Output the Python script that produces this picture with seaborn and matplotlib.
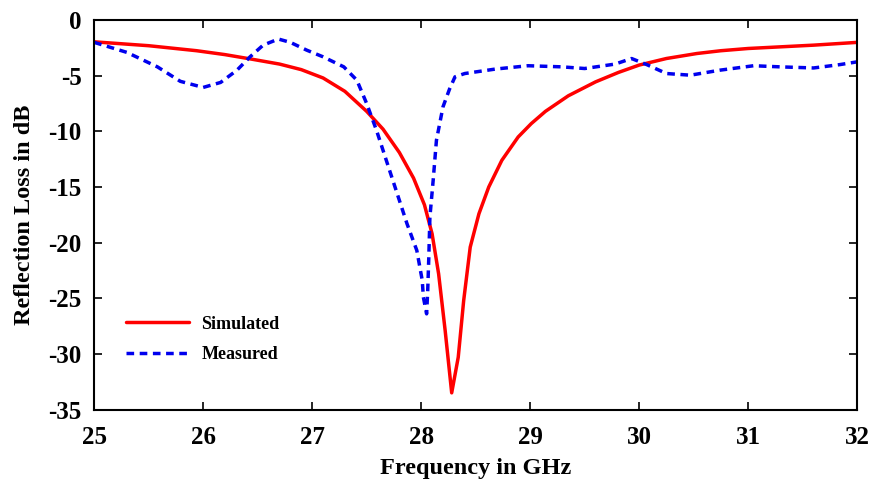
import numpy as np
import pandas as pd
import matplotlib
matplotlib.use("Agg")
import matplotlib.pyplot as plt
import seaborn as sns

sim_freq = [25.0, 25.5, 25.94, 26.2, 26.44, 26.7, 26.9, 27.1, 27.3, 27.5, 27.65, 27.8,
            27.93, 28.03, 28.1, 28.16, 28.22, 28.28, 28.34, 28.39, 28.45, 28.53, 28.62,
            28.74, 28.89, 29.01, 29.14, 29.35, 29.6, 29.81, 30.0, 30.25, 30.53, 30.75,
            31.0, 31.3, 31.6, 32.0]
sim_db = [-1.95, -2.3, -2.75, -3.1, -3.5, -3.95, -4.45, -5.2, -6.4, -8.2, -9.8, -11.9,
          -14.2, -16.6, -19.2, -22.8, -27.9, -33.5, -30.3, -25.2, -20.4, -17.4, -15.0,
          -12.6, -10.5, -9.3, -8.2, -6.8, -5.55, -4.7, -4.04, -3.45, -3.0, -2.75,
          -2.55, -2.4, -2.25, -2.0]

meas_freq = [25.0, 25.3, 25.58, 25.79, 26.0, 26.16, 26.31, 26.43, 26.55, 26.69, 26.8, 26.95,
             27.1, 27.29, 27.41, 27.5, 27.59, 27.69, 27.78, 27.87, 27.96, 28.01, 28.02,
             28.05, 28.06, 28.07, 28.08, 28.11, 28.14, 28.2, 28.26, 28.31, 28.4, 28.68,
             28.98, 29.29, 29.5, 29.78, 29.93, 30.07, 30.25, 30.47, 30.74, 31.05, 31.29,
             31.6, 31.84, 32.0]
meas_db = [-2.0, -2.9, -4.2, -5.5, -6.05, -5.6, -4.5, -3.3, -2.25, -1.7, -2.0, -2.7,
           -3.3, -4.2, -5.4, -7.5, -9.9, -12.9, -15.6, -18.3, -20.7, -23.4, -24.9,
           -26.4, -24.3, -21.3, -17.7, -14.4, -10.8, -7.8, -6.2, -5.1, -4.8, -4.4,
           -4.1, -4.2, -4.35, -3.95, -3.45, -4.0, -4.8, -4.95, -4.5, -4.1, -4.2,
           -4.3, -4.0, -3.75]

x_ticks = [25, 26, 27, 28, 29, 30, 31, 32]
y_ticks = [0, -5, -10, -15, -20, -25, -30, -35]

df = pd.concat([
    pd.DataFrame({"Frequency": sim_freq, "RL": sim_db, "Series": "Simulated"}),
    pd.DataFrame({"Frequency": meas_freq, "RL": meas_db, "Series": "Measured"}),
])

sns.set_style("ticks")
plt.rcParams["font.family"] = ["Liberation Serif", "DejaVu Serif"]
plt.rcParams["font.weight"] = "bold"
plt.rcParams["text.color"] = "black"
plt.rcParams["axes.labelcolor"] = "black"
plt.rcParams["xtick.color"] = "black"
plt.rcParams["ytick.color"] = "black"

fig = plt.figure(figsize=(8.72, 4.79), dpi=100)
ax = fig.add_axes([0.108, 0.145, 0.875, 0.813])

sns.lineplot(data=df, x="Frequency", y="RL", hue="Series", style="Series",
             palette={"Simulated": "#ff0000", "Measured": "#0000ee"},
             dashes={"Simulated": "", "Measured": (2.2, 1.6)},
             linewidth=2.5, sort=False, estimator=None, ax=ax)

ax.set_xlim(25, 32)
ax.set_ylim(-35, 0)
ax.set_xticks(x_ticks)
ax.set_yticks(y_ticks)
ax.set_xticklabels([str(t) for t in x_ticks], fontsize=18, fontweight="bold")
ax.set_yticklabels([str(t) for t in y_ticks], fontsize=18, fontweight="bold")
ax.tick_params(axis="x", direction="in", top=True, length=6, width=1.2, pad=12)
ax.tick_params(axis="y", direction="in", right=True, length=6, width=1.2, pad=9)
for s in ax.spines.values():
    s.set_visible(True)
    s.set_linewidth(1.5)
    s.set_color("black")
ax.set_xlabel("Frequency in GHz", fontsize=17.5, fontweight="bold", labelpad=6)
ax.set_ylabel("Reflection Loss in dB", fontsize=17.5, fontweight="bold", labelpad=10)

leg = ax.legend(loc="lower left", bbox_to_anchor=(0.02, 0.077), frameon=False,
                prop={"family": "Liberation Serif", "weight": "bold", "size": 13},
                handlelength=3.5, labelspacing=0.75, handletextpad=0.7)
leg.set_title(None)

fig.savefig("out.png", dpi=100)
